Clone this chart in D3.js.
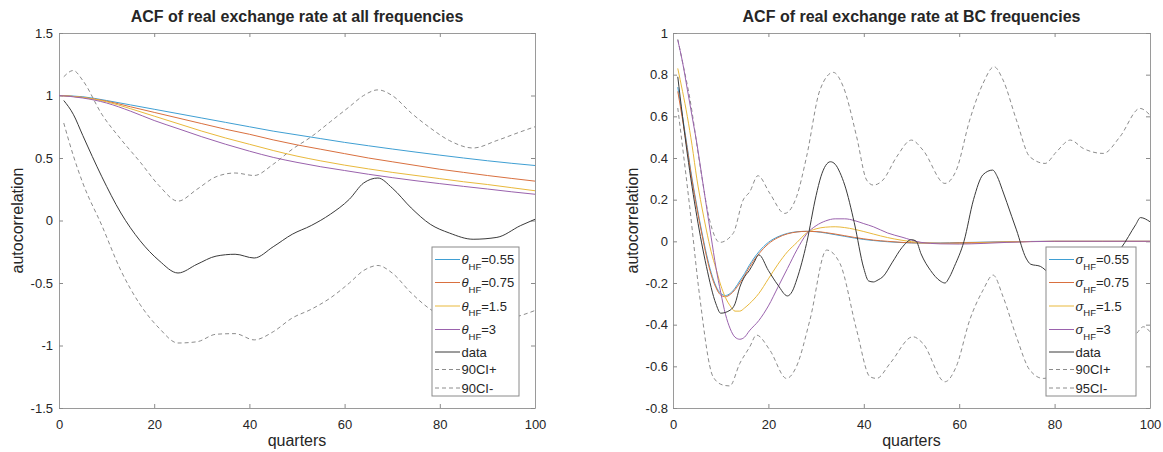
<!DOCTYPE html>
<html>
<head>
<meta charset="utf-8">
<script src="https://cdnjs.cloudflare.com/ajax/libs/d3/7.8.5/d3.min.js"></script>
<style>
  body { margin: 0; background: #fff; }
  text { font-family: "Liberation Sans", Arial, sans-serif; fill: #262626; }
</style>
</head>
<body>
<div id="chart"></div>
<script>
// ---- left panel: ACF at all frequencies ----
var allModelQ   = [0, 5, 10, 15, 20, 25, 30, 35, 40, 45, 50, 55, 60, 65, 70, 75, 80, 85, 90, 95, 100];
var allTheta055 = [1.0, 0.99, 0.96, 0.925, 0.89, 0.855, 0.82, 0.785, 0.75, 0.715, 0.685, 0.655, 0.625, 0.598, 0.572, 0.547, 0.523, 0.5, 0.478, 0.458, 0.44];
var allTheta075 = [1.0, 0.985, 0.955, 0.91, 0.865, 0.82, 0.775, 0.73, 0.69, 0.645, 0.605, 0.57, 0.535, 0.5, 0.47, 0.44, 0.41, 0.385, 0.36, 0.337, 0.315];
var allTheta15  = [1.0, 0.985, 0.95, 0.895, 0.835, 0.775, 0.715, 0.66, 0.61, 0.56, 0.515, 0.477, 0.443, 0.413, 0.385, 0.36, 0.335, 0.31, 0.288, 0.263, 0.238];
var allTheta3   = [1.0, 0.98, 0.94, 0.875, 0.80, 0.735, 0.67, 0.61, 0.555, 0.505, 0.465, 0.43, 0.40, 0.37, 0.343, 0.318, 0.295, 0.273, 0.252, 0.23, 0.21];

var allDataQ = [1, 3, 5, 9, 13, 17, 21, 25, 29, 33, 37, 41, 45, 49, 53, 57, 61, 64, 67, 70, 74, 78, 82, 87, 92, 97, 100];
var allData  = [0.96, 0.85, 0.68, 0.35, 0.06, -0.16, -0.32, -0.42, -0.35, -0.285, -0.27, -0.30, -0.21, -0.11, -0.04, 0.05, 0.17, 0.30, 0.34, 0.26, 0.10, -0.03, -0.10, -0.15, -0.135, -0.04, 0.01];
var allUpper = [1.15, 1.20, 1.12, 0.85, 0.65, 0.47, 0.28, 0.155, 0.25, 0.35, 0.38, 0.36, 0.45, 0.57, 0.67, 0.79, 0.91, 1.0, 1.045, 1.0, 0.86, 0.74, 0.64, 0.58, 0.64, 0.71, 0.75];
var allLower = [0.78, 0.52, 0.30, -0.04, -0.40, -0.67, -0.86, -0.98, -0.97, -0.91, -0.905, -0.955, -0.89, -0.78, -0.71, -0.62, -0.50, -0.40, -0.36, -0.42, -0.58, -0.71, -0.79, -0.83, -0.80, -0.76, -0.72];

// ---- right panel: ACF at BC frequencies ----
var bcModelQ   = [1, 2, 3, 4, 5, 6, 7, 8, 9, 10, 11, 12, 13, 14, 15, 16, 18, 20, 22, 24, 26, 28, 30, 32, 34, 36, 38, 40, 42, 45, 48, 52, 56, 60, 65, 70, 80, 90, 100];
var bcSigma055 = [0.74, 0.6, 0.45, 0.3, 0.17, 0.05, -0.06, -0.15, -0.215, -0.25, -0.26, -0.25, -0.225, -0.19, -0.155, -0.115, -0.05, -0.005, 0.022, 0.038, 0.046, 0.048, 0.046, 0.04, 0.032, 0.024, 0.016, 0.009, 0.004, -0.002, -0.006, -0.008, -0.008, -0.006, -0.004, -0.002, 0, 0, 0];
var bcSigma075 = [0.72, 0.585, 0.44, 0.29, 0.16, 0.04, -0.07, -0.16, -0.222, -0.258, -0.266, -0.255, -0.232, -0.2, -0.165, -0.125, -0.06, -0.012, 0.018, 0.036, 0.045, 0.048, 0.047, 0.042, 0.035, 0.027, 0.019, 0.012, 0.006, 0.0, -0.005, -0.008, -0.009, -0.007, -0.005, -0.003, 0, 0, 0];
var bcSigma15  = [0.83, 0.72, 0.60, 0.46, 0.30, 0.17, 0.054, -0.05, -0.13, -0.21, -0.27, -0.31, -0.335, -0.335, -0.32, -0.30, -0.25, -0.18, -0.11, -0.05, -0.005, 0.04, 0.06, 0.068, 0.07, 0.066, 0.058, 0.047, 0.035, 0.018, 0.005, -0.006, -0.01, -0.01, -0.007, -0.003, 0, 0, 0];
var bcSigma3   = [0.966, 0.86, 0.73, 0.60, 0.47, 0.32, 0.17, 0.02, -0.125, -0.245, -0.35, -0.42, -0.46, -0.47, -0.46, -0.43, -0.38, -0.31, -0.22, -0.13, -0.04, 0.035, 0.075, 0.098, 0.108, 0.108, 0.1, 0.085, 0.07, 0.04, 0.02, -0.005, -0.012, -0.013, -0.01, -0.005, 0, 0, 0];

var bcDataQ = [1, 3, 5, 7, 9, 10, 12, 13, 14, 15, 16, 17, 18, 20, 22, 24, 25, 26, 28, 30, 31, 33, 34, 35, 36, 38, 40, 41, 42, 43, 44, 46, 48, 50, 51, 52, 54, 56, 57, 58, 59, 61, 63, 65, 67, 68, 69, 71, 72, 74, 75, 77, 79, 82, 86, 90, 94, 97, 98, 100];
var bcData  = [0.79, 0.42, 0.12, -0.12, -0.30, -0.345, -0.33, -0.30, -0.22, -0.17, -0.14, -0.10, -0.065, -0.14, -0.21, -0.262, -0.24, -0.18, -0.01, 0.22, 0.31, 0.382, 0.37, 0.33, 0.27, 0.09, -0.13, -0.19, -0.195, -0.185, -0.17, -0.10, -0.03, 0.008, 0.0, -0.06, -0.14, -0.19, -0.2, -0.17, -0.12, 0.0, 0.2, 0.32, 0.342, 0.31, 0.25, 0.12, 0.055, -0.08, -0.11, -0.12, -0.155, -0.18, -0.19, -0.12, -0.03, 0.08, 0.114, 0.094];

var bcUpperQ = [1, 2, 3.5, 5.6, 7.7, 9.8, 12.6, 14.7, 16.1, 17.8, 20.3, 23.4, 25.9, 28, 30.8, 33.6, 35.7, 38.5, 40.6, 42, 44, 46.9, 50, 52.4, 57, 59.4, 62.2, 65, 67.3, 69.2, 72, 74.8, 78, 80.4, 83.3, 86, 90.2, 93.7, 97.9, 100];
var bcUpper  = [0.97, 0.86, 0.69, 0.374, 0.10, -0.005, 0.038, 0.198, 0.238, 0.315, 0.23, 0.134, 0.214, 0.406, 0.726, 0.811, 0.742, 0.502, 0.294, 0.27, 0.294, 0.406, 0.486, 0.438, 0.278, 0.342, 0.582, 0.758, 0.838, 0.774, 0.582, 0.406, 0.374, 0.43, 0.486, 0.446, 0.422, 0.502, 0.638, 0.606];

var bcLowerQ = [1, 3.5, 5.6, 8.4, 10.5, 11.9, 14, 16.1, 17.5, 20.3, 23.8, 25.9, 28.7, 32.2, 35, 38.5, 41.3, 42.7, 45.5, 50.3, 52.4, 57, 59.4, 62.2, 65, 67.1, 69.2, 72, 74.8, 77.6, 82, 86, 90, 94, 97.2, 98.6, 100];
var bcLower  = [0.64, 0.166, -0.266, -0.65, -0.69, -0.694, -0.586, -0.506, -0.45, -0.522, -0.658, -0.60, -0.378, -0.042, -0.106, -0.426, -0.65, -0.658, -0.586, -0.458, -0.49, -0.674, -0.60, -0.378, -0.234, -0.162, -0.266, -0.458, -0.618, -0.658, -0.62, -0.58, -0.60, -0.53, -0.442, -0.41, -0.434];

var xTicks = [0, 20, 40, 60, 80, 100];
var allYTicks = [-1.5, -1, -0.5, 0, 0.5, 1, 1.5];
var bcYTicks = [-0.8, -0.6, -0.4, -0.2, 0, 0.2, 0.4, 0.6, 0.8, 1];
var modelValues = ["0.55", "0.75", "1.5", "3"];
var modelColors = ["#3f9fd3", "#d9703f", "#e9b93c", "#9a62ad"];

var W = 1163, H = 452, plotTop = 33, plotH = 375;

var svg = d3.select("#chart").append("svg")
    .attr("width", W)
    .attr("height", H);

function toPoints(q, v) {
    return q.map(function (d, i) { return [d, v[i]]; });
}

// matlab style tick labels: 1, 0.5, -1 (plain hyphen)
function plainNum(d) { return String(d); }

var panels = [
    {
        left: 59, width: 476, title: "ACF of real exchange rate at all frequencies",
        yDomain: [-1.5, 1.5], yTicks: allYTicks, symbol: "\u03b8", labelPad: 6, ylabelX: 23,
        models: [toPoints(allModelQ, allTheta055), toPoints(allModelQ, allTheta075),
                 toPoints(allModelQ, allTheta15), toPoints(allModelQ, allTheta3)],
        data: toPoints(allDataQ, allData),
        upper: toPoints(allDataQ, allUpper),
        lower: toPoints(allDataQ, allLower),
        ciNames: ["90CI+", "90CI-"],
        legend: { x: 432, y: 247, w: 87, h: 149 }
    },
    {
        left: 673, width: 477, title: "ACF of real exchange rate at BC frequencies",
        yDomain: [-0.8, 1], yTicks: bcYTicks, symbol: "\u03c3", labelPad: 5, ylabelX: 638,
        models: [toPoints(bcModelQ, bcSigma055), toPoints(bcModelQ, bcSigma075),
                 toPoints(bcModelQ, bcSigma15), toPoints(bcModelQ, bcSigma3)],
        data: toPoints(bcDataQ, bcData),
        upper: toPoints(bcUpperQ, bcUpper),
        lower: toPoints(bcLowerQ, bcLower),
        ciNames: ["90CI+", "95CI-"],
        legend: { x: 1046, y: 247, w: 90, h: 149 }
    }
];

panels.forEach(function (p) {
    var g = svg.append("g")
        .attr("transform", "translate(" + p.left + "," + plotTop + ")");

    var x = d3.scaleLinear().domain([0, 100]).range([0, p.width]);
    var y = d3.scaleLinear().domain(p.yDomain).range([plotH, 0]);

    var line = d3.line()
        .x(function (d) { return x(d[0]); })
        .y(function (d) { return y(d[1]); })
        .curve(d3.curveMonotoneX);

    // axes box, ticks pointing inward like matlab
    g.append("g")
        .attr("transform", "translate(0," + plotH + ")")
        .call(d3.axisBottom(x).tickValues(xTicks).tickFormat(plainNum).tickSizeInner(-4).tickSizeOuter(0).tickPadding(12));
    g.append("g")
        .call(d3.axisTop(x).tickValues(xTicks).tickSizeInner(-4).tickSizeOuter(0).tickFormat(""));
    g.append("g")
        .call(d3.axisLeft(y).tickValues(p.yTicks).tickFormat(plainNum).tickSizeInner(-4).tickSizeOuter(0).tickPadding(p.labelPad));
    g.append("g")
        .attr("transform", "translate(" + p.width + ",0)")
        .call(d3.axisRight(y).tickValues(p.yTicks).tickSizeInner(-4).tickSizeOuter(0).tickFormat(""));

    g.selectAll(".domain").attr("stroke", "#9a9a9a");
    g.selectAll(".tick line").attr("stroke", "#8a8a8a");
    g.selectAll(".tick text")
        .attr("font-size", "13px")
        .attr("font-family", "Liberation Sans, Arial, sans-serif")
        .attr("fill", "#262626");

    // series
    g.append("path").datum(p.upper)
        .attr("d", line).attr("fill", "none")
        .attr("stroke", "#8c8c8c").attr("stroke-width", 1).attr("stroke-dasharray", "4,3");
    g.append("path").datum(p.lower)
        .attr("d", line).attr("fill", "none")
        .attr("stroke", "#8c8c8c").attr("stroke-width", 1).attr("stroke-dasharray", "4,3");
    p.models.forEach(function (m, i) {
        g.append("path").datum(m)
            .attr("d", line).attr("fill", "none")
            .attr("stroke", modelColors[i]).attr("stroke-width", 1);
    });
    g.append("path").datum(p.data)
        .attr("d", line).attr("fill", "none")
        .attr("stroke", "#3a3a3a").attr("stroke-width", 1);

    // title and axis labels
    svg.append("text")
        .attr("x", p.left + p.width / 2).attr("y", 22)
        .attr("text-anchor", "middle")
        .attr("font-size", "16px").attr("font-weight", "bold")
        .attr("fill", "#000")
        .text(p.title);
    svg.append("text")
        .attr("x", p.left + p.width / 2).attr("y", 446)
        .attr("text-anchor", "middle")
        .attr("font-size", "16px")
        .text("quarters");
    svg.append("text")
        .attr("transform", "translate(" + p.ylabelX + "," + (plotTop + plotH / 2) + ")rotate(-90)")
        .attr("text-anchor", "middle")
        .attr("font-size", "16px")
        .text("autocorrelation");

    // legend
    var lg = svg.append("g").attr("transform", "translate(" + p.legend.x + "," + p.legend.y + ")");
    lg.append("rect")
        .attr("width", p.legend.w).attr("height", p.legend.h)
        .attr("fill", "#fff").attr("stroke", "#8a8a8a").attr("stroke-width", 1);
    var rowY = [12.5, 35.5, 59, 82.5, 105, 122.5, 141];
    var items = modelColors.map(function (c, i) {
        return { color: c, dash: null, math: true, value: modelValues[i] };
    });
    items.push({ color: "#3a3a3a", dash: null, math: false, label: "data" });
    items.push({ color: "#8c8c8c", dash: "4,3", math: false, label: p.ciNames[0] });
    items.push({ color: "#8c8c8c", dash: "4,3", math: false, label: p.ciNames[1] });

    items.forEach(function (it, i) {
        lg.append("line")
            .attr("x1", 3).attr("x2", 28)
            .attr("y1", rowY[i]).attr("y2", rowY[i])
            .attr("stroke", it.color).attr("stroke-width", 1)
            .attr("stroke-dasharray", it.dash);
        var t = lg.append("text")
            .attr("x", 29.5).attr("y", rowY[i] + 4.5)
            .attr("font-size", "13px");
        if (it.math) {
            t.append("tspan").attr("font-style", "italic").text(p.symbol);
            t.append("tspan").attr("font-size", "9.5px").attr("dy", 5.5).text("HF");
            t.append("tspan").attr("dy", -5.5).text("=" + it.value);
        } else {
            t.text(it.label);
        }
    });
});
</script>
</body>
</html>
